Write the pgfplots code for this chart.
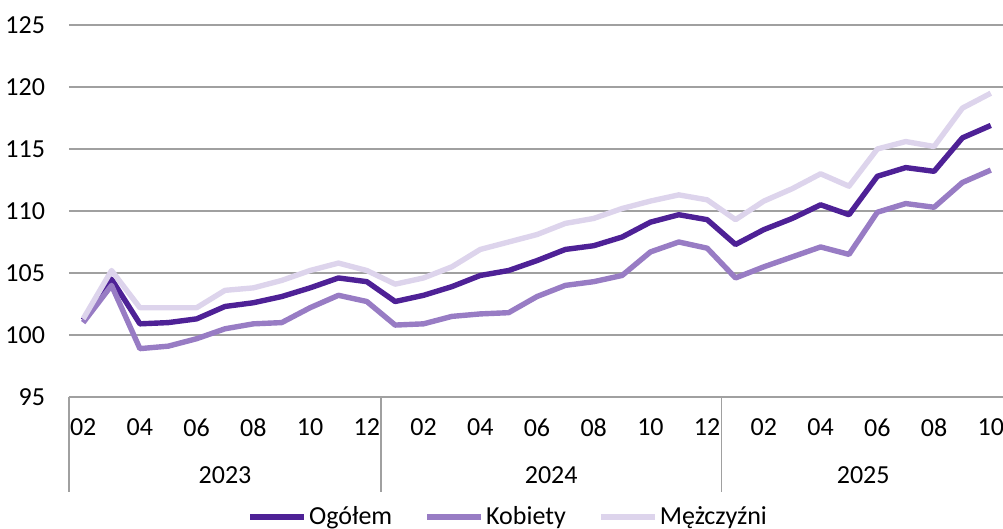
\documentclass[border=0pt]{standalone}
\usepackage{pgfplots}
\pgfplotsset{compat=1.18}
\usepackage{fontspec}
\setmainfont{Carlito}
\definecolor{c1}{RGB}{78,33,150}
\definecolor{c2}{RGB}{152,124,196}
\definecolor{c3}{RGB}{221,212,236}
\definecolor{gridc}{RGB}{160,160,160}
\pgfplotstableread{
i ogolem kobiety mezczyzni
0 101.2 101.0 101.3
1 104.5 104.0 105.2
2 100.9 98.9 102.2
3 101.0 99.1 102.2
4 101.3 99.7 102.2
5 102.3 100.5 103.6
6 102.6 100.9 103.8
7 103.1 101.0 104.4
8 103.8 102.2 105.2
9 104.6 103.2 105.8
10 104.3 102.7 105.2
11 102.7 100.8 104.1
12 103.2 100.9 104.6
13 103.9 101.5 105.5
14 104.8 101.7 106.9
15 105.2 101.8 107.5
16 106.0 103.1 108.1
17 106.9 104.0 109.0
18 107.2 104.3 109.4
19 107.9 104.8 110.2
20 109.1 106.7 110.8
21 109.7 107.5 111.3
22 109.3 107.0 110.9
23 107.3 104.6 109.3
24 108.5 105.5 110.8
25 109.4 106.3 111.8
26 110.5 107.1 113.0
27 109.7 106.5 112.0
28 112.8 109.9 115.0
29 113.5 110.6 115.6
30 113.2 110.3 115.2
31 115.9 112.3 118.3
32 116.9 113.3 119.5
}\data
\begin{document}
\fontsize{13}{15}\selectfont
\begin{tikzpicture}
\begin{axis}[
  scale only axis, width=468pt, height=186pt,
  at={(0,0)}, anchor=south west,
  xmin=-0.5, xmax=32.5, ymin=95, ymax=125,
  ytick={95,100,...,125},
  xtick={0,2,...,32},
  xticklabels={02,04,06,08,10,12,02,04,06,08,10,12,02,04,06,08,10},
  /pgf/number format/assume math mode=true,
  axis x line*=bottom, axis y line*=left,
  y axis line style={opacity=0},
  x axis line style={gridc, line width=0.75pt, -},
  major tick length=0pt,
  ymajorgrids, grid style={gridc, line width=0.75pt},
  yticklabel style={xshift=-7.5pt},
  xticklabel style={yshift=-6.5pt},
  clip=false,
  legend columns=3,
  legend style={at={(axis description cs:0.5,0)}, anchor=center, yshift=-60pt, xshift=-14.5pt, draw=none, fill=none, font=\fontsize{13}{15}\selectfont,
    nodes={inner xsep=1pt}},
  legend cell align=left,
  /tikz/every even column/.append style={column sep=15pt},
  legend image code/.code={\draw[#1, line width=3pt] (0pt,0pt) -- (27pt,0pt);},
  every axis plot/.append style={line width=2.7pt, line join=round, no markers},
]
\addplot[c1] table[x=i, y=ogolem] {\data};
\addplot[c2] table[x=i, y=kobiety] {\data};
\addplot[c3] table[x=i, y=mezczyzni] {\data};
\legend{Ogółem, Kobiety, Mężczyźni}
\draw[gridc, line width=0.75pt] (axis cs:-0.5,95) -- (axis cs:-0.5,87.3);
\draw[gridc, line width=0.75pt] (axis cs:10.5,95) -- (axis cs:10.5,87.3);
\draw[gridc, line width=0.75pt] (axis cs:22.5,95) -- (axis cs:22.5,87.3);
\node at (axis cs:5,95) [yshift=-39pt] {2023};
\node at (axis cs:16.5,95) [yshift=-39pt] {2024};
\node at (axis cs:27.5,95) [yshift=-39pt] {2025};
\end{axis}
\pgfresetboundingbox
\path (-34.5pt,-66pt) rectangle (467pt,198.5pt);
\end{tikzpicture}
\end{document}
